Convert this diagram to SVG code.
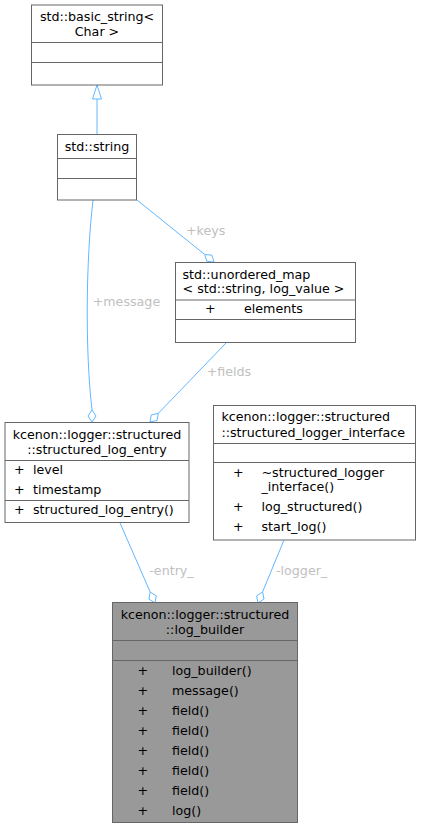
<svg xmlns="http://www.w3.org/2000/svg" width="421" height="828" viewBox="0 0 421 828">
<style>
text{font-family:"DejaVu Sans","Liberation Sans",sans-serif;font-size:12.67px;fill:#000}
.box{fill:#fff;stroke:#666;stroke-width:1}
.cur{fill:#999;stroke:#666;stroke-width:1}
.sep{stroke:#666;stroke-width:1}
.c{text-anchor:middle}
.e{fill:none;stroke:#63b8ff;stroke-width:1}
.ah{fill:#fff;stroke:#63b8ff;stroke-width:1}
.lbl{fill:#c0c0c0}
</style>
<g id="connectors">
<path class="e" d="M97,134 L97,99"/>
<polygon class="ah" points="97,85 92.5,99 101.5,99"/>
<path class="e" d="M137,200 L204.7,254.5"/>
<polygon class="ah" points="204.7,254.5 206.85,261.35 214,262 211.85,255.15"/>
<text class="lbl" x="186" y="234.5">+keys</text>
<path class="e" d="M93,200 C86,260 85,350 92,410"/>
<polygon class="ah" points="92,410 88,416 92,422 96,416"/>
<text class="lbl" x="92.7" y="305.5">+message</text>
<path class="e" d="M226,343 L158.3,413.35"/>
<polygon class="ah" points="158.3,413.35 151.3,414.9 150,422 157,420.5"/>
<text class="lbl" x="206.7" y="376">+fields</text>
<path class="e" d="M120,523 L150.2,592"/>
<polygon class="ah" points="150.2,592 148.9,599.1 155,603 156.3,595.9"/>
<text class="lbl" x="149.3" y="575">-entry_</text>
<path class="e" d="M284,540 L262.6,591.9"/>
<polygon class="ah" points="262.6,591.9 256.6,596 258,603 264,599"/>
<text class="lbl" x="276" y="575">-logger_</text>
</g>
<g id="basic_string">
<rect class="box" x="31.5" y="5" width="131" height="80"/>
<line class="sep" x1="31.5" y1="42.5" x2="162.5" y2="42.5"/>
<line class="sep" x1="31.5" y1="62.5" x2="162.5" y2="62.5"/>
<text class="c" x="97" y="21">std::basic_string&lt;</text>
<text class="c" x="97" y="36">Char &gt;</text>
</g>
<g id="string">
<rect class="box" x="57.5" y="134.5" width="79" height="65.5"/>
<line class="sep" x1="57.5" y1="158.5" x2="136.5" y2="158.5"/>
<line class="sep" x1="57.5" y1="178.5" x2="136.5" y2="178.5"/>
<text class="c" x="97" y="151">std::string</text>
</g>
<g id="unordered_map">
<rect class="box" x="175.5" y="262.5" width="180" height="80"/>
<line class="sep" x1="175.5" y1="300" x2="355.5" y2="300"/>
<line class="sep" x1="175.5" y1="319.5" x2="355.5" y2="319.5"/>
<text x="182.5" y="278.5">std::unordered_map</text>
<text x="182.5" y="293">&lt; std::string, log_value &gt;</text>
<text x="205" y="313">+</text>
<text x="244" y="313">elements</text>
</g>
<g id="structured_log_entry">
<rect class="box" x="5" y="422.5" width="184" height="100"/>
<line class="sep" x1="5" y1="460.5" x2="189" y2="460.5"/>
<line class="sep" x1="5" y1="500.5" x2="189" y2="500.5"/>
<text class="c" x="97" y="439">kcenon::logger::structured</text>
<text class="c" x="97" y="453.5">::structured_log_entry</text>
<text x="14" y="473.5">+</text>
<text x="33" y="473.5">level</text>
<text x="14" y="493.5">+</text>
<text x="33" y="493.5">timestamp</text>
<text x="14" y="513.5">+</text>
<text x="33" y="513.5">structured_log_entry()</text>
</g>
<g id="structured_logger_interface">
<rect class="box" x="213.5" y="405.5" width="202" height="134.5"/>
<line class="sep" x1="213.5" y1="443.5" x2="415.5" y2="443.5"/>
<line class="sep" x1="213.5" y1="462.5" x2="415.5" y2="462.5"/>
<text x="221.5" y="421">kcenon::logger::structured</text>
<text x="221.5" y="436.5">::structured_logger_interface</text>
<text x="233" y="476.5">+</text>
<text x="261.5" y="476.5">~structured_logger</text>
<text x="261.5" y="491">_interface()</text>
<text x="233" y="511">+</text>
<text x="261.5" y="511">log_structured()</text>
<text x="233" y="531">+</text>
<text x="261.5" y="531">start_log()</text>
</g>
<g id="log_builder">
<rect class="cur" x="112.5" y="602.5" width="185" height="220"/>
<line class="sep" x1="112.5" y1="640.5" x2="297.5" y2="640.5"/>
<line class="sep" x1="112.5" y1="660.5" x2="297.5" y2="660.5"/>
<text class="c" x="205" y="619">kcenon::logger::structured</text>
<text class="c" x="205" y="633.5">::log_builder</text>
<text x="137.5" y="674.5">+</text><text x="172" y="674.5">log_builder()</text>
<text x="137.5" y="694.5">+</text><text x="172" y="694.5">message()</text>
<text x="137.5" y="714.5">+</text><text x="172" y="714.5">field()</text>
<text x="137.5" y="734.5">+</text><text x="172" y="734.5">field()</text>
<text x="137.5" y="754.5">+</text><text x="172" y="754.5">field()</text>
<text x="137.5" y="774.5">+</text><text x="172" y="774.5">field()</text>
<text x="137.5" y="794.5">+</text><text x="172" y="794.5">field()</text>
<text x="137.5" y="814.5">+</text><text x="172" y="814.5">log()</text>
</g>
</svg>
